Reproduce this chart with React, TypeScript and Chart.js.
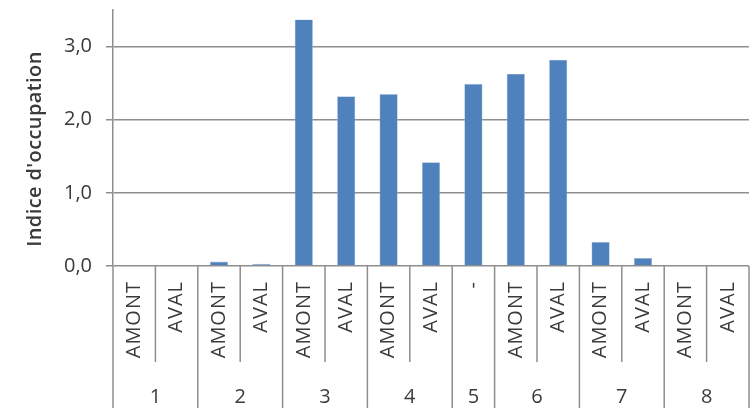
import React, { useEffect, useRef } from "react";
import { Chart, registerables } from "chart.js";

Chart.register(...registerables);

const groupLabels = ["1", "2", "3", "4", "5", "6", "7", "8"];
const groupSizes = [2, 2, 2, 2, 1, 2, 2, 2];
const subLabels = [
  "AMONT", "AVAL",
  "AMONT", "AVAL",
  "AMONT", "AVAL",
  "AMONT", "AVAL",
  "-",
  "AMONT", "AVAL",
  "AMONT", "AVAL",
  "AMONT", "AVAL",
];
const occupationValues = [0, 0, 0.06, 0.03, 3.37, 2.32, 2.35, 1.42, 2.49, 2.63, 2.82, 0.33, 0.11, 0, 0];
const yTicks = [0, 1, 2, 3];
const yTitle = "Indice d'occupation";

const FONT = "'Open Sans', 'Noto Sans', sans-serif";
const TEXT = "#3a3a3a";
const GRID = "#8e8e8e";

const multiLevelAxis = {
  id: "multiLevelAxis",
  afterDraw(chart: any) {
    const ctx = chart.ctx;
    const xs = chart.scales.x;
    const area = chart.chartArea;
    const n = subLabels.length;
    const w = (area.right - area.left) / n;
    const bottom = chart.height;
    const innerBottom = area.bottom + 96;

    const groupBounds = new Set<number>();
    let acc = 0;
    groupBounds.add(0);
    groupSizes.forEach((s) => {
      acc += s;
      groupBounds.add(acc);
    });

    ctx.save();
    ctx.strokeStyle = GRID;
    ctx.lineWidth = 1.5;
    for (let i = 0; i <= n; i++) {
      const bx = i < n ? xs.getPixelForValue(i) - w / 2 : xs.getPixelForValue(n - 1) + w / 2;
      const isGroup = groupBounds.has(i);
      ctx.beginPath();
      ctx.moveTo(bx, area.bottom);
      ctx.lineTo(bx, isGroup ? bottom : innerBottom);
      ctx.stroke();
    }

    // sub labels
    ctx.fillStyle = TEXT;
    ctx.font = `20px ${FONT}`;
    (ctx as any).letterSpacing = "1px";
    ctx.textAlign = "right";
    ctx.textBaseline = "middle";
    for (let i = 0; i < n; i++) {
      const cx = xs.getPixelForValue(i);
      ctx.save();
      ctx.translate(cx, area.bottom + 15);
      ctx.rotate(-Math.PI / 2);
      ctx.fillText(subLabels[i], 0, 0);
      ctx.restore();
    }
    (ctx as any).letterSpacing = "0px";

    // group labels
    ctx.textAlign = "center";
    ctx.textBaseline = "middle";
    let start = 0;
    groupSizes.forEach((s, g) => {
      const x0 = xs.getPixelForValue(start) - w / 2;
      const x1 = xs.getPixelForValue(start + s - 1) + w / 2;
      ctx.fillText(groupLabels[g], (x0 + x1) / 2, area.bottom + 131);
      start += s;
    });

    // y title
    ctx.save();
    ctx.font = `600 20px ${FONT}`;
    (ctx as any).letterSpacing = "0.4px";
    ctx.translate(35, 149);
    ctx.rotate(-Math.PI / 2);
    ctx.textAlign = "center";
    ctx.textBaseline = "middle";
    ctx.fillText(yTitle, 0, 0);
    ctx.restore();

    ctx.restore();
  },
};

export default function App() {
  const ref = useRef<HTMLCanvasElement | null>(null);

  useEffect(() => {
    if (!ref.current) return;
    const chart = new Chart(ref.current, {
      type: "bar",
      data: {
        labels: subLabels.map((s, i) => `${i}-${s}`),
        datasets: [
          {
            data: occupationValues,
            backgroundColor: "#4f81bd",
            borderColor: "#a9c0e0",
            borderWidth: 0.6,
            barPercentage: 0.43,
            categoryPercentage: 1,
          },
        ],
      },
      options: {
        responsive: false,
        animation: false,
        devicePixelRatio: 1,
        layout: { padding: { left: 0, right: 6, top: 10, bottom: 142 } },
        plugins: { legend: { display: false }, tooltip: { enabled: false }, title: { display: false } },
        scales: {
          x: { type: "category", display: false, offset: true, grid: { display: false } },
          y: {
            min: 0,
            max: 3.5,
            afterFit(scale: any) {
              scale.width = 113;
              scale.paddingTop = 0;
              scale.paddingBottom = 0;
            },
            afterBuildTicks(scale: any) {
              scale.ticks = yTicks.map((v) => ({ value: v }));
            },
            ticks: {
              stepSize: 1,
              includeBounds: false,
              padding: 14,
              color: TEXT,
              font: { family: FONT, size: 20 },
              callback: (v: any) => Number(v).toFixed(1).replace(".", ","),
            },
            grid: { color: GRID, lineWidth: 1.5, drawTicks: true, tickLength: 7 },
            border: { display: true, color: GRID, width: 1.5 },
          },
        },
      },
      plugins: [multiLevelAxis],
    });
    return () => chart.destroy();
  }, []);

  return (
    <div style={{ position: "absolute", left: 0, top: 0, width: 755, height: 408, background: "#fff" }}>
      <canvas ref={ref} width={755} height={408} style={{ display: "block" }} />
    </div>
  );
}
